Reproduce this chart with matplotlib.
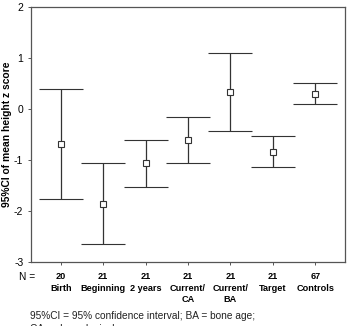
import matplotlib.pyplot as plt

categories = ["Birth", "Beginning", "2 years", "Current/\nCA", "Current/\nBA", "Target", "Controls"]
counts = [20, 21, 21, 21, 21, 21, 67]
means = [-0.68, -1.87, -1.065, -0.60, 0.34, -0.84, 0.29]
upper = [0.40, -1.065, -0.60, -0.15, 1.10, -0.535, 0.51]
lower = [-1.76, -2.65, -1.535, -1.05, -0.425, -1.14, 0.09]

plt.rcParams["font.family"] = ["Liberation Sans", "DejaVu Sans"]

fig = plt.figure(figsize=(3.49, 3.26), dpi=100)
ax = fig.add_axes([0.0888, 0.1963, 0.8997, 0.7822])

x = list(range(len(categories)))
err_lo = [m - l for m, l in zip(means, lower)]
err_hi = [u - m for m, u in zip(means, upper)]
ax.errorbar(x, means, yerr=[err_lo, err_hi], fmt="s", color="#333333",
            ecolor="#333333", elinewidth=0.9, capsize=16, capthick=0.9,
            markersize=4.5, markerfacecolor="white", markeredgecolor="#333333",
            markeredgewidth=0.8)

ax.set_xlim(-0.7, 6.7)
ax.set_ylim(-3, 2)
ax.set_yticks([-3, -2, -1, 0, 1, 2])
ax.set_yticklabels(["-3", "-2", "-1", "0", "1", "2"], fontsize=7.5)
ax.set_xticks(x)
ax.set_xticklabels([f"{n}\n{c}" for n, c in zip(counts, categories)],
                   fontsize=6.6, fontweight="bold", linespacing=1.3, va="top")
ax.tick_params(axis="both", length=2.5, width=0.7, color="#555555", pad=3)
ax.tick_params(axis="x", pad=5)
for s in ax.spines.values():
    s.set_color("#555555")
    s.set_linewidth(0.9)

ax.set_ylabel("95%CI of mean height z score", fontsize=7.4, fontweight="bold")
ax.yaxis.set_label_coords(-19 / 314, 0.5)

fig.text(19 / 349, 1 - 277 / 326, "N =", fontsize=7.3, ha="left", va="center")
fig.text(30 / 349, 1 - 316 / 326, "95%CI = 95% confidence interval; BA = bone age;",
         fontsize=7.3, ha="left", va="center", color="#222222")
fig.text(30 / 349, 1 - 329 / 326, "CA = chronological age",
         fontsize=7.3, ha="left", va="center", color="#222222")

fig.savefig("out.png", dpi=100)
